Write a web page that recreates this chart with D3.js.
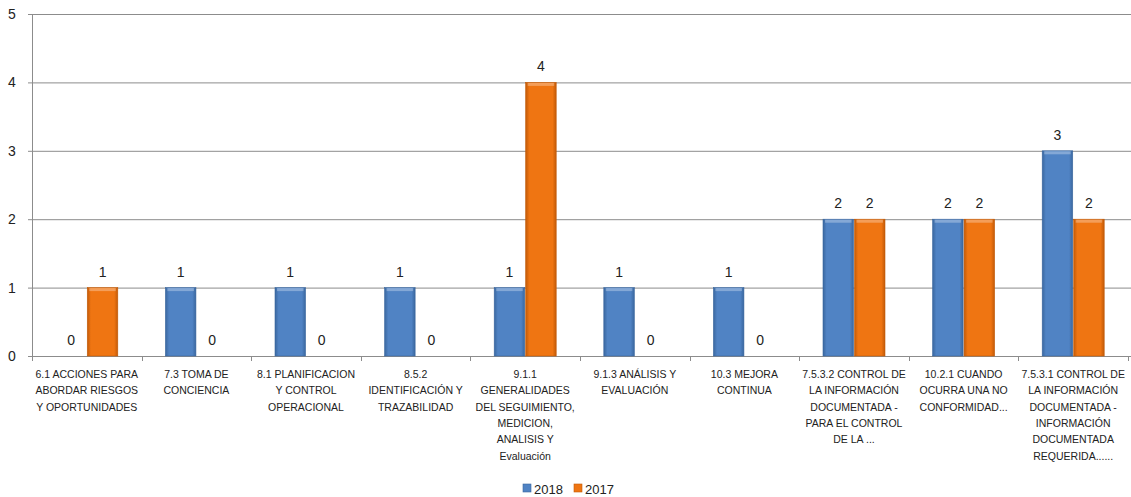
<!DOCTYPE html>
<html>
<head>
<meta charset="utf-8">
<script src="https://cdn.jsdelivr.net/npm/d3@7"></script>
<style>
body { margin: 0; background: #fff; }
text { font-family: "Liberation Sans", Arial, sans-serif; fill: #222; }
</style>
</head>
<body>
<script>
// categories, one list of lines per tick label
var categories = [
    ["6.1 ACCIONES PARA", "ABORDAR RIESGOS", "Y OPORTUNIDADES"],
    ["7.3 TOMA DE", "CONCIENCIA"],
    ["8.1 PLANIFICACION", "Y CONTROL", "OPERACIONAL"],
    ["8.5.2", "IDENTIFICACIÓN Y", "TRAZABILIDAD"],
    ["9.1.1", "GENERALIDADES", "DEL SEGUIMIENTO,", "MEDICION,", "ANALISIS Y", "Evaluación"],
    ["9.1.3 ANÁLISIS Y", "EVALUACIÓN"],
    ["10.3 MEJORA", "CONTINUA"],
    ["7.5.3.2 CONTROL DE", "LA INFORMACIÓN", "DOCUMENTADA -", "PARA EL CONTROL", "DE LA ..."],
    ["10.2.1 CUANDO", "OCURRA UNA NO", "CONFORMIDAD..."],
    ["7.5.3.1 CONTROL DE", "LA INFORMACIÓN", "DOCUMENTADA -", "INFORMACIÓN", "DOCUMENTADA", "REQUERIDA......"]
];
var values2018 = [0, 1, 1, 1, 1, 1, 1, 2, 2, 3];
var values2017 = [1, 0, 0, 0, 4, 0, 0, 2, 2, 2];
var seriesNames = ["2018", "2017"];
var yTicks = [0, 1, 2, 3, 4, 5];

var colors = {"2018": "#5083c4", "2017": "#ef7512"};
var darkColors = {"2018": "#3a679f", "2017": "#c25a08"};

var width = 1131, height = 497;
var plotLeft = 32, plotRight = 1128, plotTop = 14, plotBottom = 356;

var svg = d3.select("body")
    .append("svg")
    .attr("width", width)
    .attr("height", height);

var defs = svg.append("defs");
seriesNames.forEach(function(s) {
    var g = defs.append("linearGradient")
        .attr("id", "grad" + s)
        .attr("x1", "0").attr("x2", "1").attr("y1", "0").attr("y2", "0");
    g.append("stop").attr("offset", "0").attr("stop-color", darkColors[s]);
    g.append("stop").attr("offset", "0.12").attr("stop-color", colors[s]);
    g.append("stop").attr("offset", "0.88").attr("stop-color", colors[s]);
    g.append("stop").attr("offset", "1").attr("stop-color", darkColors[s]);
});

var x = d3.scaleBand()
    .domain(d3.range(categories.length))
    .range([plotLeft, plotRight]);

var inner = d3.scaleBand()
    .domain(seriesNames)
    .range([x.bandwidth() / 2 - 31, x.bandwidth() / 2 + 31])
    .paddingInner(0.03);

var y = d3.scaleLinear()
    .domain([0, 5])
    .range([plotBottom, plotTop]);

// gridlines
svg.append("g")
    .selectAll("line")
    .data(yTicks)
    .enter()
    .append("line")
    .attr("x1", plotLeft - 4)
    .attr("x2", width)
    .attr("y1", function(d) { return y(d) + 0.5; })
    .attr("y2", function(d) { return y(d) + 0.5; })
    .style("stroke", "#8c8c8c")
    .style("stroke-width", 1);

// y labels
svg.append("g")
    .selectAll("text")
    .data(yTicks)
    .enter()
    .append("text")
    .attr("x", 12)
    .attr("y", function(d) { return y(d); })
    .attr("dy", "0.35em")
    .attr("text-anchor", "middle")
    .attr("font-size", "14px")
    .text(function(d) { return d; });

// y axis line
svg.append("line")
    .attr("x1", plotLeft + 0.5).attr("x2", plotLeft + 0.5)
    .attr("y1", plotTop).attr("y2", plotBottom)
    .style("stroke", "#8c8c8c");

// x axis ticks
svg.append("g")
    .selectAll("line")
    .data(d3.range(categories.length + 1))
    .enter()
    .append("line")
    .attr("x1", function(d) { return Math.round(plotLeft + d * x.bandwidth()) + 0.5; })
    .attr("x2", function(d) { return Math.round(plotLeft + d * x.bandwidth()) + 0.5; })
    .attr("y1", plotBottom)
    .attr("y2", plotBottom + 5)
    .style("stroke", "#8c8c8c");

var rows = categories.map(function(c, i) {
    return {i: i, v: {"2018": values2018[i], "2017": values2017[i]}};
});

var groups = svg.selectAll(".grp")
    .data(rows)
    .enter()
    .append("g")
    .attr("class", "grp")
    .attr("transform", function(d) { return "translate(" + x(d.i) + ",0)"; });

seriesNames.forEach(function(s) {
    groups.append("rect")
        .attr("x", inner(s))
        .attr("width", inner.bandwidth())
        .attr("y", function(d) { return y(d.v[s]); })
        .attr("height", function(d) { return plotBottom - y(d.v[s]); })
        .attr("fill", "url(#grad" + s + ")")
        .attr("stroke", darkColors[s])
        .attr("stroke-width", 0.6);
    // light top bevel
    groups.filter(function(d) { return d.v[s] > 0; })
        .append("rect")
        .attr("x", inner(s) + 2)
        .attr("width", inner.bandwidth() - 4)
        .attr("y", function(d) { return y(d.v[s]) + 0.5; })
        .attr("height", 3)
        .attr("fill", "#fff")
        .attr("opacity", 0.3);
    groups.append("text")
        .attr("x", inner(s) + inner.bandwidth() / 2)
        .attr("y", function(d) { return y(d.v[s]) - 11; })
        .attr("text-anchor", "middle")
        .attr("font-size", "14px")
        .text(function(d) { return d.v[s]; });
});

// category labels
var catText = svg.append("g")
    .selectAll("text")
    .data(categories)
    .enter()
    .append("text")
    .attr("text-anchor", "middle")
    .attr("font-size", "10.5px")
    .attr("y", 378);
catText.selectAll("tspan")
    .data(function(d, i) { return d.map(function(t) { return {t: t, i: i}; }); })
    .enter()
    .append("tspan")
    .attr("x", function(d) { return x(d.i) + x.bandwidth() / 2; })
    .attr("dy", function(d, j) { return j == 0 ? 0 : 16.3; })
    .text(function(d) { return d.t; });

// legend
var legend = svg.append("g").attr("transform", "translate(523,489)");
var legendX = [0, 51];
seriesNames.forEach(function(s, i) {
    legend.append("rect")
        .attr("x", legendX[i])
        .attr("y", -5)
        .attr("width", 8)
        .attr("height", 8)
        .attr("fill", colors[s])
        .attr("stroke", darkColors[s])
        .attr("stroke-width", 0.6);
    legend.append("text")
        .attr("x", legendX[i] + 11)
        .attr("y", 0)
        .attr("dy", "0.35em")
        .attr("font-size", "13px")
        .text(s);
});
</script>
</body>
</html>
